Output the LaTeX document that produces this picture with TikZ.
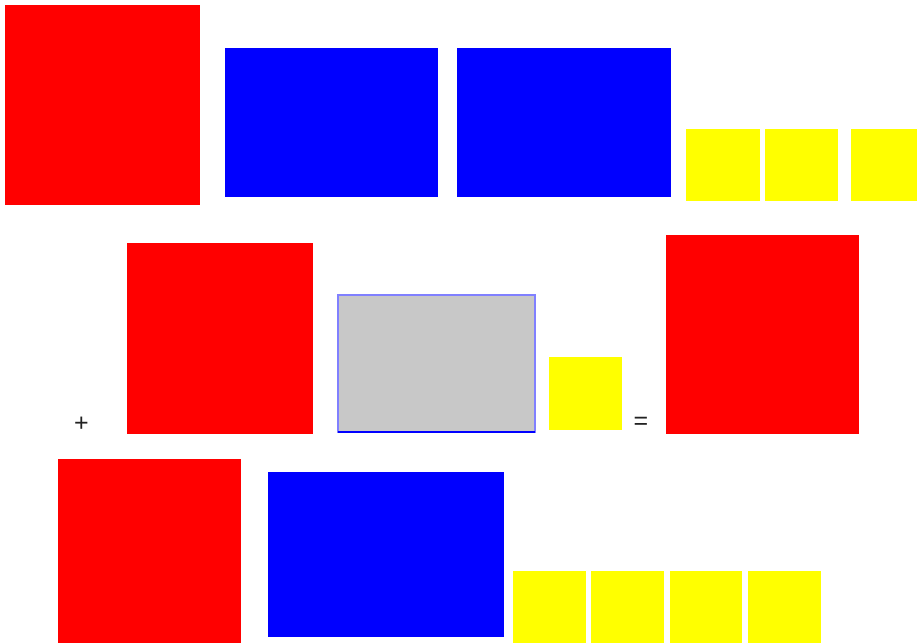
\documentclass[tikz,border=0pt]{standalone}
\usepackage{fontspec}
\setmainfont{Liberation Sans}
\definecolor{pgray}{RGB}{200,200,200}
\definecolor{pborder}{RGB}{128,128,255}
\definecolor{ptext}{RGB}{34,34,34}
\begin{document}
\begin{tikzpicture}[x=1pt,y=-1pt,
  tile/.style={inner sep=0pt, outer sep=0pt, anchor=north west},
  redsq/.style={tile, fill={rgb,255:red,255;green,0;blue,0}},
  bluerect/.style={tile, fill={rgb,255:red,0;green,0;blue,255}},
  yellowsq/.style={tile, fill={rgb,255:red,255;green,255;blue,0}, minimum width=73pt, minimum height=72pt},
  graybox/.style={tile, fill=pgray, draw=pborder, line width=1.2pt},
  sign/.style={text=ptext, font=\fontsize{25}{25}\selectfont, inner sep=0pt}]
\useasboundingbox (0,0) rectangle (917,643);
\fill[white] (0,0) rectangle (917,643);
% row 1
\node[redsq, minimum width=195pt, minimum height=200pt] (r1) at (5,5) {};
\node[bluerect, minimum width=213pt, minimum height=149pt] (b1) at (225,48) {};
\node[bluerect, minimum width=214pt, minimum height=149pt] (b2) at (457,48) {};
\node[yellowsq, minimum width=74pt] (y1) at (686,129) {};
\node[yellowsq] (y2) at (765,129) {};
\node[yellowsq, minimum width=66pt] (y3) at (851,129) {};
% row 2
\node[sign] (plus) at (81.5,424) {+};
\node[redsq, minimum width=186pt, minimum height=191pt] (r2) at (127,243) {};
\node[graybox, minimum width=197pt, minimum height=137pt] (g) at (338,295) {};
\draw[blue, line width=1.2pt] (g.south west) -- (g.south east);
\node[yellowsq, minimum width=73pt, minimum height=73pt] (y4) at (549,357) {};
\node[sign] (eq) at (641,423.5) {=};
\node[redsq, minimum width=193pt, minimum height=199pt] (r3) at (666,235) {};
% row 3
\node[redsq, minimum width=183pt, minimum height=184pt] (r4) at (58,459) {};
\node[bluerect, minimum width=236pt, minimum height=165pt] (b3) at (268,472) {};
\node[yellowsq] (y5) at (513,571) {};
\node[yellowsq] (y6) at (591,571) {};
\node[yellowsq, minimum width=72pt] (y7) at (670,571) {};
\node[yellowsq] (y8) at (748,571) {};
\end{tikzpicture}
\end{document}
